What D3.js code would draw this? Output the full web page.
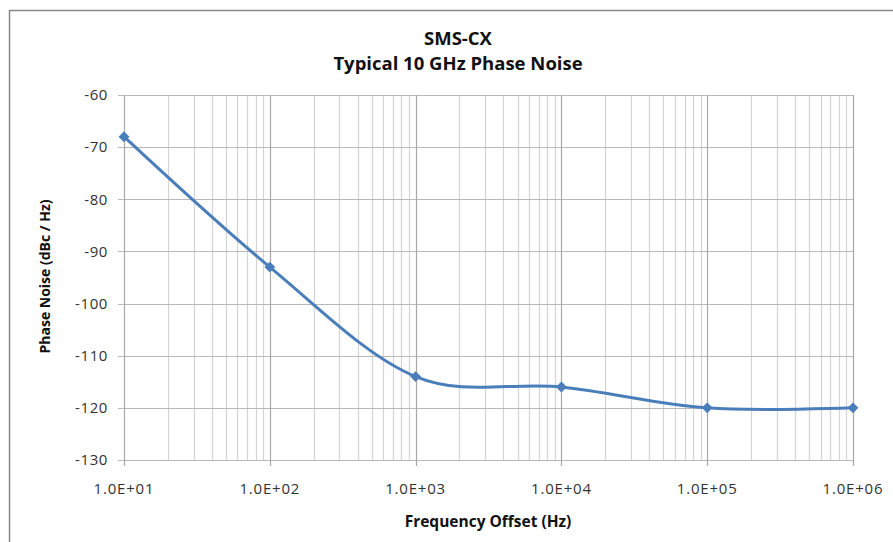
<!DOCTYPE html>
<html>
<head>
<meta charset="utf-8">
<script src="https://cdn.jsdelivr.net/npm/d3@7"></script>
<style>
  body { margin: 0; background: #fff; }
  svg { display: block; font-family: "Open Sans", sans-serif; }
</style>
</head>
<body>
<div id="chart"></div>
<script>
const TITLE_LINES = ["SMS-CX", "Typical 10 GHz Phase Noise"];
const FREQ_HZ = [1e1, 1e2, 1e3, 1e4, 1e5, 1e6];
const NOISE_DBC = [-68, -93, -114, -116, -120, -120];
const X_TICKS = [1e1, 1e2, 1e3, 1e4, 1e5, 1e6];
const Y_TICKS = [-60, -70, -80, -90, -100, -110, -120, -130];

const LINE_COLOR = "#4a7ebb";
const width = 893;
const height = 542;
const margin = { top: 95, right: 40, bottom: 82, left: 124 };

const svg = d3.select("#chart")
  .append("svg")
  .attr("width", width)
  .attr("height", height);

// outer chart border (right/bottom edges fall outside the window)
svg.append("rect")
  .attr("x", 9.5).attr("y", 10.5)
  .attr("width", width + 10).attr("height", height + 10)
  .attr("fill", "none")
  .attr("stroke", "#888")
  .attr("stroke-width", 1.5);

const x = d3.scaleLog().domain([1e1, 1e6]).range([margin.left, width - margin.right]);
const y = d3.scaleLinear().domain([-130, -60]).range([height - margin.bottom, margin.top]);

const grid = svg.append("g");

// minor vertical gridlines 2..9 in each decade
const minor = [];
for (let d = 1; d < 6; d += 1) {
  for (let m = 2; m <= 9; m += 1) minor.push(m * Math.pow(10, d));
}
grid.selectAll("line.minor")
  .data(minor)
  .join("line")
  .attr("class", "minor")
  .attr("x1", (d) => Math.round(x(d)) + 0.5)
  .attr("x2", (d) => Math.round(x(d)) + 0.5)
  .attr("y1", y(-60)).attr("y2", y(-130))
  .attr("stroke", "#d4d4d4").attr("stroke-width", 1.2);

grid.selectAll("line.h")
  .data(Y_TICKS)
  .join("line")
  .attr("class", "h")
  .attr("x1", x(1e1) - 6).attr("x2", x(1e6))
  .attr("y1", (d) => Math.round(y(d)) + 0.5)
  .attr("y2", (d) => Math.round(y(d)) + 0.5)
  .attr("stroke", "#b8b8b8").attr("stroke-width", 1.2);

grid.selectAll("line.major")
  .data(X_TICKS)
  .join("line")
  .attr("class", "major")
  .attr("x1", (d) => Math.round(x(d)) + 0.5)
  .attr("x2", (d) => Math.round(x(d)) + 0.5)
  .attr("y1", y(-60)).attr("y2", y(-130) + 6)
  .attr("stroke", "#a8a8a8").attr("stroke-width", 1.2);

// tick labels
svg.append("g")
  .selectAll("text")
  .data(Y_TICKS)
  .join("text")
  .attr("x", x(1e1) - 16)
  .attr("y", (d) => y(d))
  .attr("dy", "0.35em")
  .attr("text-anchor", "end")
  .attr("font-size", 15)
  .attr("letter-spacing", 0.6)
  .attr("fill", "#333")
  .text((d) => d);

svg.append("g")
  .selectAll("text")
  .data(X_TICKS)
  .join("text")
  .attr("x", (d) => x(d))
  .attr("y", y(-130) + 34)
  .attr("text-anchor", "middle")
  .attr("font-size", 15)
  .attr("letter-spacing", 0.8)
  .attr("fill", "#333")
  .text((d) => d.toExponential(1).toUpperCase().replace(/E([+-])(\d)$/, "E$10$2"));

// series
const points = FREQ_HZ.map((f, i) => [f, NOISE_DBC[i]]);
const line = d3.line()
  .x((d) => x(d[0]))
  .y((d) => y(d[1]))
  .curve(d3.curveCardinal.tension(0));

svg.append("path")
  .datum(points)
  .attr("d", line)
  .attr("fill", "none")
  .attr("stroke", LINE_COLOR)
  .attr("stroke-width", 3);

svg.append("g")
  .selectAll("path")
  .data(points)
  .join("path")
  .attr("transform", (d) => `translate(${x(d[0])},${y(d[1])})`)
  .attr("d", d3.symbol(d3.symbolDiamond2, 75))
  .attr("fill", LINE_COLOR);

// titles
svg.append("g")
  .selectAll("text")
  .data(TITLE_LINES)
  .join("text")
  .attr("x", 458)
  .attr("y", (d, i) => 45 + i * 25)
  .attr("text-anchor", "middle")
  .attr("font-size", 18.5)
  .attr("font-weight", "bold")
  .attr("fill", "#111")
  .text((d) => d);

svg.append("text")
  .attr("x", 488)
  .attr("y", 527)
  .attr("text-anchor", "middle")
  .attr("font-size", 15.5)
  .attr("font-weight", "bold")
  .attr("fill", "#111")
  .text("Frequency Offset (Hz)");

svg.append("text")
  .attr("transform", `translate(50,${(y(-60) + y(-130)) / 2 - 1}) rotate(-90)`)
  .attr("text-anchor", "middle")
  .attr("font-size", 14)
  .attr("font-weight", "bold")
  .attr("fill", "#111")
  .text("Phase Noise (dBc / Hz)");
</script>
</body>
</html>
